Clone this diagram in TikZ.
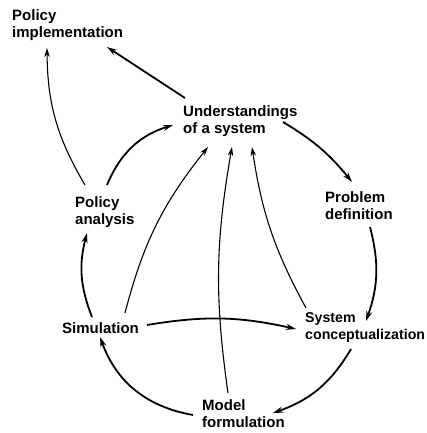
\documentclass[tikz,border=0pt]{standalone}
\usepackage{fontspec}
\setmainfont{Liberation Sans}
\usetikzlibrary{arrows.meta,calc}

\begin{document}
\begin{tikzpicture}[
    x=1pt, y=-1pt,
    stage/.style={anchor=north west, align=left, inner sep=0pt, font=\bfseries\fontsize{15}{17}\selectfont},
    flow/.style={-{Stealth[length=10pt,width=6pt]}, line width=1.8pt},
    weakflow/.style={-{Stealth[length=9pt,width=5.5pt]}, line width=1.1pt}
]
\clip (0,0) rectangle (426,433);

% Stages
\node[stage] (impl) at (12,9.5) {Policy\\implementation};
\node[stage] (und) at (183,105.5) {Understandings\\of a system};
\node[stage] (prob) at (325,191) {Problem\\definition};
\node[stage] (pa) at (75,196) {Policy\\analysis};
\node[stage] (sim) at (62,322) {Simulation};
\node[stage, font=\bfseries\fontsize{14.2}{17}\selectfont] (syscon) at (305,312) {System\\conceptualization};
\node[stage] (model) at (202,399) {Model\\formulation};

% Main cycle
\draw[flow] ($(und.north west)+(100,16.5)$) to[bend left=10] ($(prob.north west)+(27,-9)$);
\draw[flow] ($(prob.north west)+(45,36)$) to[bend left=17] ($(syscon.north west)+(61,9)$);
\draw[flow] ($(syscon.north west)+(46,37)$) to[bend left=20] ($(model.north west)+(71,14)$);
\draw[flow] ($(model.north west)+(-9,16)$) to[bend left=30] ($(sim.north west)+(38,15)$);
\draw[flow] ($(sim.north west)+(30,-5)$) to[bend left=18] ($(pa.north west)+(12,37)$);
\draw[flow] ($(pa.north west)+(32,-11)$) to[bend left=25] ($(und.north west)+(-10,19.5)$);
\draw[flow] ($(und.north west)+(2,-7.5)$) to ($(impl.north west)+(95,37.5)$);
\draw[flow] ($(sim.north west)+(85,3)$) to[bend left=11] ($(syscon.north west)+(-9,17)$);

% Feedback to understanding
\draw[weakflow] ($(pa.north west)+(10,-11)$) to[bend left=15] ($(impl.north west)+(35,38.5)$);
\draw[weakflow] ($(sim.north west)+(63,-9)$) to[bend left=12] ($(und.north west)+(25,41.5)$);
\draw[weakflow] ($(model.north west)+(26,-6)$) to[bend left=9] ($(und.north west)+(49,41.5)$);
\draw[weakflow] ($(syscon.north west)+(1,-4)$) to[bend left=10] ($(und.north west)+(69,41.5)$);

\end{tikzpicture}
\end{document}
